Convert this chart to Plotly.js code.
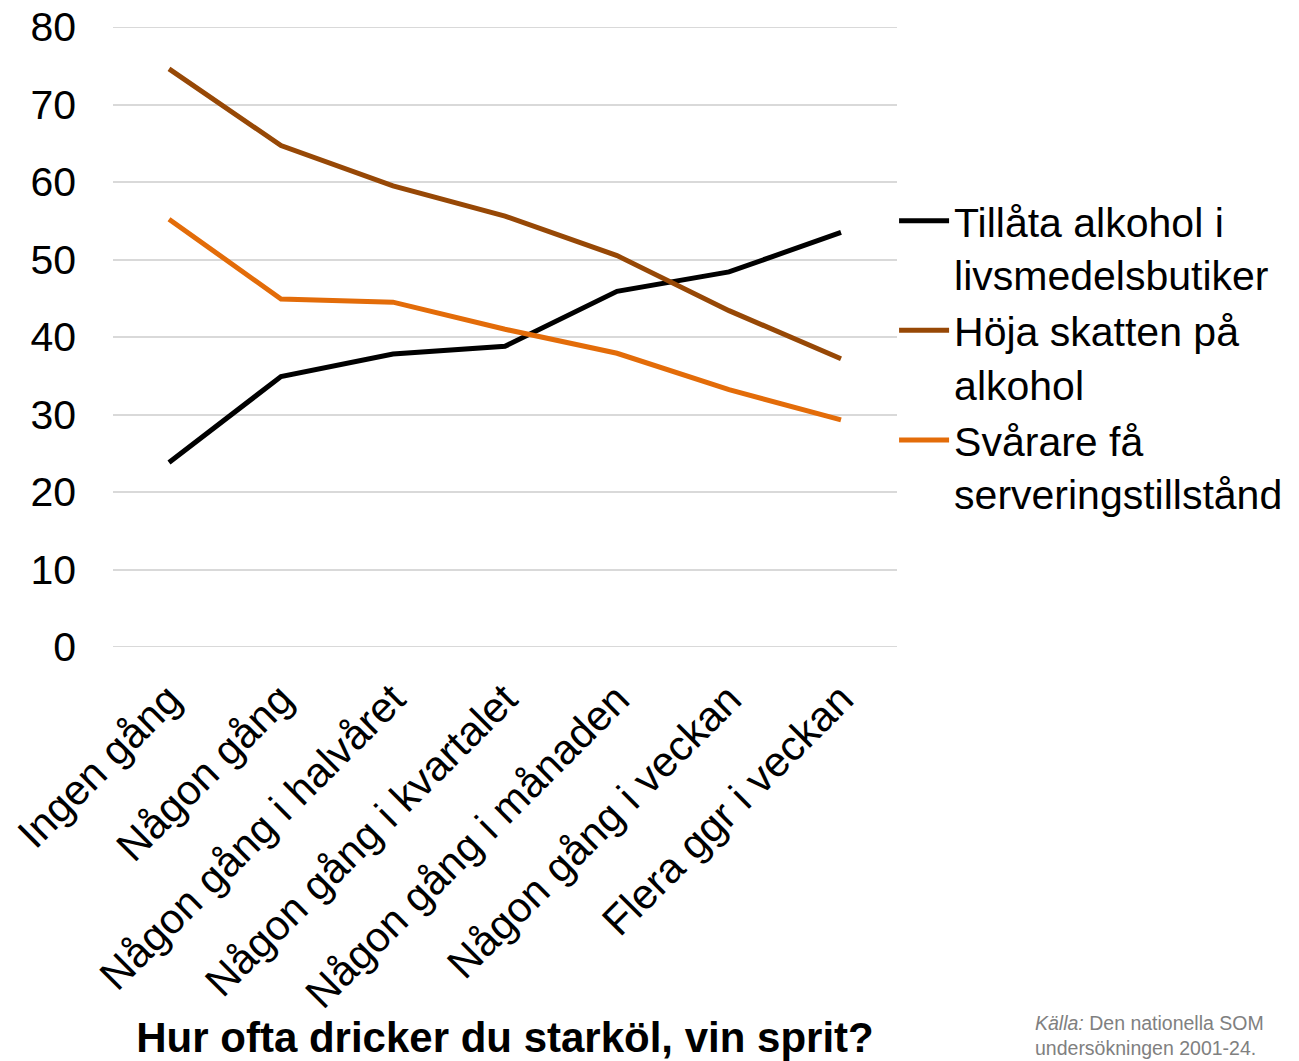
<!DOCTYPE html>
<html>
<head>
<meta charset="utf-8">
<script src="https://cdn.plot.ly/plotly-3.0.1.min.js"></script>
<style>html,body{margin:0;padding:0;background:#fff;}#chart{width:1299px;height:1061px;}</style>
</head>
<body>
<div id="chart"></div>
<script>
const categories = ["Ingen gång", "Någon gång", "Någon gång i halvåret", "Någon gång i kvartalet", "Någon gång i månaden", "Någon gång i veckan", "Flera ggr i veckan"];
const seriesNames = ["Tillåta alkohol i<br>livsmedelsbutiker", "Höja skatten på<br>alkohol", "Svårare få<br>serveringstillstånd"];
const tillataAlkohol = [23.8, 34.9, 37.8, 38.8, 45.9, 48.4, 53.5];
const hojaSkatten = [74.6, 64.7, 59.5, 55.6, 50.5, 43.4, 37.2];
const svarareServering = [55.2, 44.9, 44.5, 41.0, 37.9, 33.2, 29.3];
const yTicks = [0, 10, 20, 30, 40, 50, 60, 70, 80];
const xTitle = "Hur ofta dricker du starköl, vin sprit?";
const sourceText = "<i>Källa:</i> Den nationella SOM<br>undersökningen 2001-24.";

const colors = ["#000000", "#974806", "#E36C09"];
const values = [tillataAlkohol, hojaSkatten, svarareServering];
const FONT = "Liberation Sans, Arial, sans-serif";

const traces = values.map((v, i) => ({
  type: "scatter",
  mode: "lines",
  x: categories,
  y: v,
  name: seriesNames[i],
  line: {color: colors[i], width: 5}
}));

const gridShapes = [0, 80].map(v => ({
  type: "line", xref: "paper", yref: "y", x0: 0, x1: 1, y0: v, y1: v,
  line: {color: "#d9d9d9", width: 2}, layer: "below"
}));

const layout = {
  width: 1299,
  height: 1061,
  margin: {l: 113, r: 401, t: 27, b: 414},
  paper_bgcolor: "#ffffff",
  plot_bgcolor: "#ffffff",
  font: {family: FONT, color: "#000000", size: 40},
  showlegend: true,
  legend: {
    x: 0.995, xanchor: "left", y: 0.741, yanchor: "top",
    valign: "top",
    font: {family: FONT, size: 41, color: "#000000"},
    itemwidth: 50, tracegroupgap: 5,
    bgcolor: "rgba(0,0,0,0)"
  },
  xaxis: {
    type: "category",
    range: [-0.5, 6.5],
    tickangle: -45,
    showgrid: false,
    showline: false,
    zeroline: false,
    ticks: "",
    ticklabelstandoff: 18,
    tickfont: {family: FONT, size: 42, color: "#000000"},
    title: {text: "<b>" + xTitle + "</b>", font: {family: FONT, size: 42, color: "#000000"}, standoff: 20},
    automargin: false
  },
  yaxis: {
    range: [0, 80],
    tickvals: yTicks,
    showgrid: true,
    gridcolor: "#d9d9d9",
    gridwidth: 2,
    zeroline: false,
    showline: false,
    ticks: "",
    ticklabelstandoff: 36,
    tickfont: {family: FONT, size: 41, color: "#000000"},
    automargin: false
  },
  shapes: gridShapes,
  annotations: [{
    xref: "paper", yref: "paper", x: 1.173, y: -0.585,
    xanchor: "left", yanchor: "top", align: "left",
    text: sourceText, showarrow: false,
    font: {family: FONT, size: 19.5, color: "#808080"}
  }]
};

Plotly.newPlot("chart", traces, layout, {displayModeBar: false, staticPlot: true});
</script>
</body>
</html>
